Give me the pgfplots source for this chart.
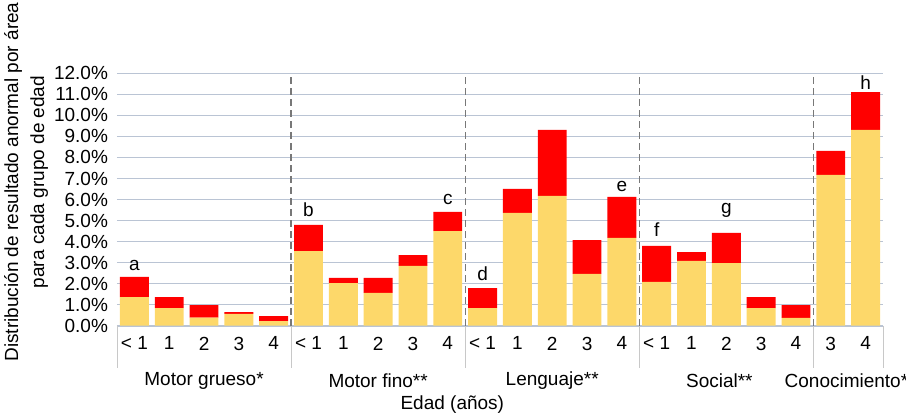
\documentclass[border=0pt]{standalone}
\usepackage{fontspec}
\setmainfont{Liberation Sans}
\usepackage{pgfplots}
\pgfplotsset{compat=1.18}
\definecolor{barY}{RGB}{253,216,106}
\definecolor{barR}{RGB}{255,0,0}
\definecolor{gridc}{RGB}{186,196,212}
\definecolor{sepc}{RGB}{120,120,120}
\definecolor{linec}{RGB}{200,200,200}
\begin{document}
\begin{tikzpicture}[font=\fontsize{9.5}{13}\selectfont]
\path[use as bounding box] (-58.5pt,-44.15pt) rectangle (394.5pt,162.85pt);
\begin{axis}[
    at={(0,0)}, anchor=south west,
    scale only axis,
    width=383pt, height=126.2pt,
    ybar stacked, bar width=0.83,
    xmin=-0.5, xmax=21.5, ymin=0, ymax=12,
    clip=false,
    xtick={0,...,21},
    xticklabels={< 1,1,2,3,4,< 1,1,2,3,4,< 1,1,2,3,4,< 1,1,2,3,4,3,4},
    ytick={0,...,12},
    yticklabels={0.0\%,1.0\%,2.0\%,3.0\%,4.0\%,5.0\%,6.0\%,7.0\%,8.0\%,9.0\%,10.0\%,11.0\%,12.0\%},
    major tick length=0,
    axis line style={draw=none},
    ymajorgrids, grid style={gridc, line width=0.8pt},
    xticklabel style={yshift=-2pt},
    yticklabel style={xshift=-1pt},
]
% parte inferior (amarillo)
\addplot[fill=barY, draw=none] coordinates {
(0,1.36) (1,0.84) (2,0.38) (3,0.56) (4,0.22)
(5,3.55) (6,2.03) (7,1.56) (8,2.84) (9,4.50)
(10,0.84) (11,5.36) (12,6.17) (13,2.46) (14,4.17)
(15,2.08) (16,3.08) (17,2.98) (18,0.84) (19,0.37)
(20,7.17) (21,9.31)
};
% parte superior (rojo)
\addplot[fill=barR, draw=none] coordinates {
(0,0.96) (1,0.52) (2,0.60) (3,0.09) (4,0.24)
(5,1.24) (6,0.24) (7,0.71) (8,0.52) (9,0.91)
(10,0.95) (11,1.14) (12,3.14) (13,1.61) (14,1.95)
(15,1.71) (16,0.42) (17,1.43) (18,0.52) (19,0.61)
(20,1.14) (21,1.80)
};
% separadores
\draw[sepc, dash pattern=on 3.5pt off 2pt, line width=0.6pt] (axis cs:4.5,0) -- (axis cs:4.5,11.9);
\draw[sepc, dash pattern=on 3.5pt off 2pt, line width=0.6pt] (axis cs:9.5,0) -- (axis cs:9.5,11.9);
\draw[sepc, dash pattern=on 3.5pt off 2pt, line width=0.6pt] (axis cs:14.5,0) -- (axis cs:14.5,11.9);
\draw[sepc, dash pattern=on 3.5pt off 2pt, line width=0.6pt] (axis cs:19.5,0) -- (axis cs:19.5,11.9);
\draw[linec] (axis cs:-0.5,0) -- ([yshift=-21pt]axis cs:-0.5,0);
\draw[linec] (axis cs:4.5,0) -- ([yshift=-21pt]axis cs:4.5,0);
\draw[linec] (axis cs:9.5,0) -- ([yshift=-21pt]axis cs:9.5,0);
\draw[linec] (axis cs:14.5,0) -- ([yshift=-21pt]axis cs:14.5,0);
\draw[linec] (axis cs:19.5,0) -- ([yshift=-21pt]axis cs:19.5,0);
\draw[linec] (axis cs:21.5,0) -- ([yshift=-21pt]axis cs:21.5,0);
% grupos
\node at (axis cs:2,0) [yshift=-27.5pt] {Motor grueso*};
\node at (axis cs:7,0) [yshift=-27.5pt] {Motor fino**};
\node at (axis cs:12,0) [yshift=-27.5pt] {Lenguaje**};
\node at (axis cs:16.8,0) [yshift=-27.5pt] {Social**};
\node at (axis cs:20.45,0) [yshift=-27.5pt] {Conocimiento*};
\node at (axis cs:9.13,0) [yshift=-39.5pt] {Edad (años)};
% letras
\node at (axis cs:0,2.84) {a};
\node at (axis cs:5,5.50) {b};
\node at (axis cs:9,5.98) {c};
\node at (axis cs:10,2.46) {d};
\node at (axis cs:14,6.64) {e};
\node at (axis cs:15,4.55) {f};
\node at (axis cs:17,5.50) {g};
\node at (axis cs:21,11.54) {h};
\end{axis}
\node[rotate=90, align=center] at (-45.5pt,71.85pt) {Distribución de resultado anormal por área\\para cada grupo de edad};
\end{tikzpicture}
\end{document}
